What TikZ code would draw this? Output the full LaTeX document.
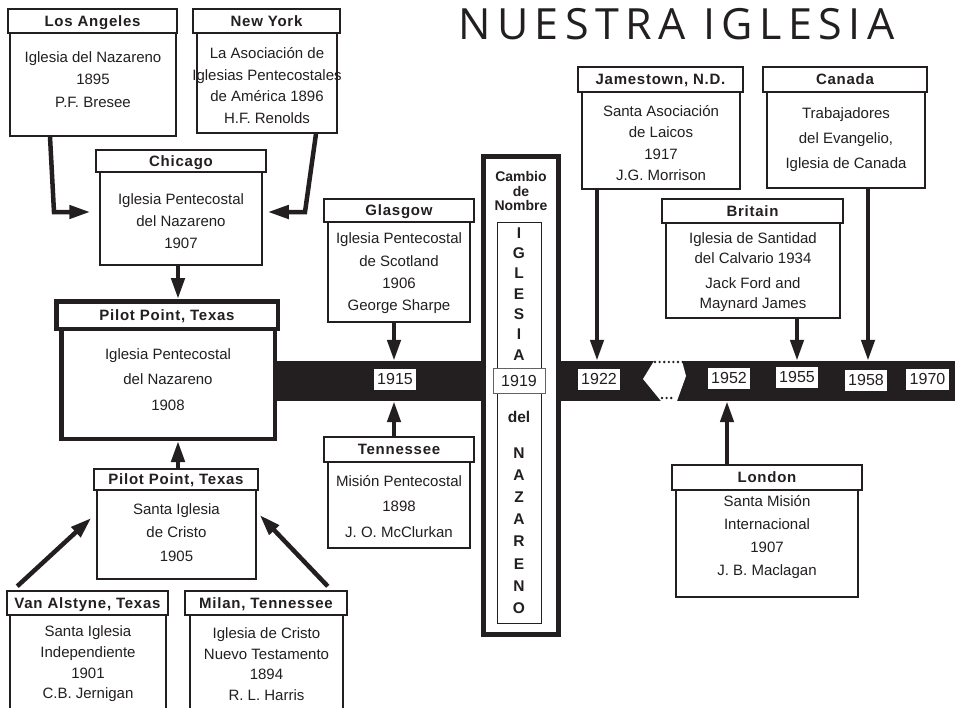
\documentclass[tikz,border=0pt]{standalone}
\usepackage{fontspec}
\setmainfont{Liberation Sans}
\newfontfamily\hdrfont[LetterSpace=5]{Liberation Sans}
\newfontfamily\titlefont[LetterSpace=15]{Open Sans}
\usetikzlibrary{arrows.meta,calc}
\definecolor{ink}{HTML}{231F20}
\begin{document}
\begin{tikzpicture}[x=1pt,y=-1pt,
  hdr/.style={draw=ink, line width=1.5pt, fill=white, inner sep=0pt, text=ink,
    text height=10.8pt, text depth=0pt,
    font=\hdrfont\bfseries\fontsize{15}{15}\selectfont},
  bodyb/.style={draw=ink, line width=1.5pt, fill=white, inner sep=0pt},
  btxt/.style={align=center, inner sep=0pt, text=ink, font=\fontsize{15}{22}\selectfont},
  thick box/.style={draw=ink, line width=4.5pt, fill=white, inner sep=0pt},
  yearbox/.style={fill=white, inner xsep=3.5pt, inner ysep=0pt, minimum height=21pt, text=ink,
    text height=11.5pt, text depth=0pt, font=\fontsize{16}{16}\selectfont},
  arr/.style={draw=ink, line width=4.5pt, -{Triangle[length=21pt,width=13pt]}},
  colletter/.style={inner sep=0pt, text=ink, font=\bfseries\fontsize{15.5}{15.5}\selectfont},
]
\clip (0,0) rectangle (955,707);
\fill[white] (0,0) rectangle (955,707);

% title
\node[anchor=base west, inner sep=0pt, text=ink, font=\titlefont\fontsize{43}{43}\selectfont] (title) at (458,39) {NUESTRA IGLESIA};

% timeline bar
\node[fill=ink, minimum width=685pt, minimum height=40pt, inner sep=0pt] (bar) at (612.5,381) {};

% break in the bar
\fill[white] (654,361) -- (643,379) -- (661,401) -- (677,401) -- (686,376) -- (682,361) -- cycle;
\draw[ink, line width=2.6pt, line cap=round, dash pattern=on 0pt off 4.6pt] (655,362) -- (683,362);
\draw[ink, line width=2.6pt, line cap=round, dash pattern=on 0pt off 4.6pt] (662,398) -- (675,398);

% year labels
\node[yearbox] (y1915) at (395,379) {1915};
\node[yearbox] (y1922) at (599,379) {1922};
\node[yearbox] (y1952) at (729,378) {1952};
\node[yearbox] (y1955) at (797,377) {1955};
\node[yearbox] (y1958) at (866,380) {1958};
\node[yearbox] (y1970) at (927.5,379) {1970};

% Los Angeles
\node[bodyb, minimum width=166pt, minimum height=103pt] (laB) at (93,84.5) {};
\node[hdr, minimum width=169pt, minimum height=24pt] (laH) at (92.5,21) {Los Angeles};
\node[btxt, font=\fontsize{15}{22.5}\selectfont] (laT) at (93,79.5) {Iglesia del Nazareno\\1895\\P.F. Bresee};

% New York
\node[bodyb, minimum width=140pt, minimum height=100pt] (nyB) at (267,83) {};
\node[hdr, minimum width=147pt, minimum height=24pt] (nyH) at (266.5,21) {New York};
\node[btxt, font=\fontsize{15}{21.7}\selectfont] (nyT) at (267,85.5) {La Asociación de\\Iglesias Pentecostales\\de América 1896\\H.F. Renolds};

% Chicago
\node[bodyb, minimum width=162pt, minimum height=93pt] (chB) at (181,218.5) {};
\node[hdr, minimum width=170pt, minimum height=22pt] (chH) at (181,161) {Chicago};
\node[btxt] (chT) at (181,221) {Iglesia Pentecostal\\del Nazareno\\1907};

% arrows into Chicago
\coordinate (laBend) at (54,212);
\coordinate (nyBend) at (305,212);
\draw[arr] ([xshift=-43pt]laB.south) -- (laBend) -- ([xshift=-9pt]chB.west |- laBend);
\draw[arr] ([xshift=49pt]nyB.south) -- (nyBend) -- ([xshift=5pt]chB.east |- nyBend);

% Pilot Point (1908)
\node[thick box, minimum width=213.5pt, minimum height=110pt] (ppB) at (168,383.75) {};
\node[thick box, minimum width=221.5pt, minimum height=27.5pt, text=ink,
  text height=10.8pt, text depth=0pt,
  font=\hdrfont\bfseries\fontsize{15}{15}\selectfont] (ppH) at (167,315) {Pilot Point, Texas};
\node[btxt, font=\fontsize{15}{25.5}\selectfont] (ppT) at (168,379.5) {Iglesia Pentecostal\\del Nazareno\\1908};
\draw[arr] ([xshift=-3pt]chB.south) -- ([xshift=-3pt]chB.south |- ppH.north);

% Pilot Point (1905)
\node[bodyb, minimum width=159pt, minimum height=89pt] (pp2B) at (176.5,534.5) {};
\node[hdr, minimum width=164pt, minimum height=21pt] (pp2H) at (176,479.5) {Pilot Point, Texas};
\node[btxt, font=\fontsize{15}{23.5}\selectfont] (pp2T) at (176.5,532.5) {Santa Iglesia\\de Cristo\\1905};
\draw[arr] ([xshift=2pt]pp2H.north) -- ([xshift=2pt]pp2H.north |- ppB.south);

% Van Alstyne
\node[bodyb, minimum width=156pt, minimum height=110pt] (vaB) at (88,670) {};
\node[hdr, minimum width=161pt, minimum height=24pt] (vaH) at (87.5,603) {Van Alstyne, Texas};
\node[btxt, font=\fontsize{15}{20.7}\selectfont] (vaT) at (88,664) {Santa Iglesia\\Independiente\\1901\\C.B. Jernigan};

% Milan
\node[bodyb, minimum width=153pt, minimum height=110pt] (mlB) at (266.5,670) {};
\node[hdr, minimum width=162pt, minimum height=24pt] (mlH) at (266,603) {Milan, Tennessee};
\node[btxt, font=\fontsize{15}{20.7}\selectfont] (mlT) at (266.5,664) {Iglesia de Cristo\\Nuevo Testamento\\1894\\R. L. Harris};

\draw[arr] ([xshift=11pt,yshift=4pt]vaH.north west) -- ([xshift=-5pt,yshift=16.5pt]pp2B.west);
\draw[arr] ([xshift=-20pt,yshift=4pt]mlH.north east) -- ([xshift=3pt,yshift=19.5pt]pp2B.east);

% Glasgow
\node[bodyb, minimum width=142pt, minimum height=100pt] (glB) at (399,272) {};
\node[hdr, minimum width=150pt, minimum height=23pt] (glH) at (399,210.5) {Glasgow};
\node[btxt, font=\fontsize{15}{22.3}\selectfont] (glT) at (399,273.5) {Iglesia Pentecostal\\de Scotland\\1906\\George Sharpe};
\draw[arr] ([xshift=-5pt]glB.south) -- ([xshift=-5pt]glB.south |- bar.north);

% Tennessee
\node[bodyb, minimum width=142pt, minimum height=86pt] (tnB) at (399,505) {};
\node[hdr, minimum width=150pt, minimum height=25pt] (tnH) at (399,449.5) {Tennessee};
\node[btxt, font=\fontsize{15}{25.5}\selectfont] (tnT) at (399,506.5) {Misión Pentecostal\\1898\\J. O. McClurkan};
\draw[arr] ([xshift=-5pt]tnH.north) -- ([xshift=-5pt]tnH.north |- bar.south);

% central column
\node[draw=ink, line width=5pt, fill=white, inner sep=0pt, minimum width=75pt, minimum height=478pt] (col) at (521,395.5) {};
\node[draw=ink, line width=0.9pt, inner sep=0pt, minimum width=44pt, minimum height=401pt] (colIn) at (519,422.5) {};
\node[align=center, inner sep=0pt, text=ink, font=\bfseries\fontsize{14}{14.5}\selectfont] (cambio) at (521,191) {Cambio\\de\\Nombre};
\node[colletter] (cI1) at (519,233) {I};
\node[colletter] (cG) at (519,253.3) {G};
\node[colletter] (cL) at (519,273.6) {L};
\node[colletter] (cE) at (519,293.9) {E};
\node[colletter] (cS) at (519,314.2) {S};
\node[colletter] (cI2) at (519,334.5) {I};
\node[colletter] (cA) at (519,354.8) {A};
\node[draw=ink!70, line width=0.9pt, fill=white, inner sep=0pt, minimum width=52pt, minimum height=25pt,
  text height=11.5pt, text depth=0pt,
  text=ink, font=\fontsize{16}{16}\selectfont] (y1919) at (519,381) {1919};
\node[colletter] (cdel) at (519,417) {del};
\node[colletter] (cN1) at (519,453) {N};
\node[colletter] (cA2) at (519,475) {A};
\node[colletter] (cZ) at (519,497) {Z};
\node[colletter] (cA3) at (519,519.5) {A};
\node[colletter] (cR) at (519,541.5) {R};
\node[colletter] (cE2) at (519,564) {E};
\node[colletter] (cN2) at (519,586) {N};
\node[colletter] (cO) at (519,608) {O};

% Jamestown
\node[bodyb, minimum width=158pt, minimum height=97pt] (jmB) at (661,140.5) {};
\node[hdr, minimum width=165pt, minimum height=25pt] (jmH) at (660.5,79.5) {Jamestown, N.D.};
\node[btxt, font=\fontsize{15}{21.3}\selectfont] (jmT) at (661,143) {Santa Asociación\\de Laicos\\1917\\J.G. Morrison};
\draw[arr] ([xshift=-64pt]jmB.south) -- ([xshift=-64pt]jmB.south |- bar.north);

% Canada
\node[bodyb, minimum width=158pt, minimum height=96pt] (caB) at (846,140) {};
\node[hdr, minimum width=164pt, minimum height=25pt] (caH) at (845,79.5) {Canada};
\node[btxt, font=\fontsize{15}{25}\selectfont] (caT) at (846,140) {Trabajadores\\del Evangelio,\\Iglesia de Canada};
\draw[arr] ([xshift=22pt]caB.south) -- ([xshift=22pt]caB.south |- bar.north);

% Britain
\node[bodyb, minimum width=174pt, minimum height=95pt] (brB) at (753,270.5) {};
\node[hdr, minimum width=181pt, minimum height=24pt] (brH) at (752.5,211) {Britain};
\node[btxt, font=\fontsize{15}{20}\selectfont] (brT) at (753,272.5) {Iglesia de Santidad\\del Calvario 1934\\[5pt]Jack Ford and\\Maynard James};
\draw[arr] ([xshift=44pt]brB.south) -- ([xshift=44pt]brB.south |- bar.north);

% London
\node[bodyb, minimum width=182pt, minimum height=107pt] (lnB) at (767,543.5) {};
\node[hdr, minimum width=190pt, minimum height=25pt] (lnH) at (767,477.5) {London};
\node[btxt, font=\fontsize{15}{23}\selectfont] (lnT) at (767,537.5) {Santa Misión\\Internacional\\1907\\J. B. Maclagan};
\draw[arr] ([xshift=-40pt]lnH.north) -- ([xshift=-40pt]lnH.north |- bar.south);

\end{tikzpicture}
\end{document}
